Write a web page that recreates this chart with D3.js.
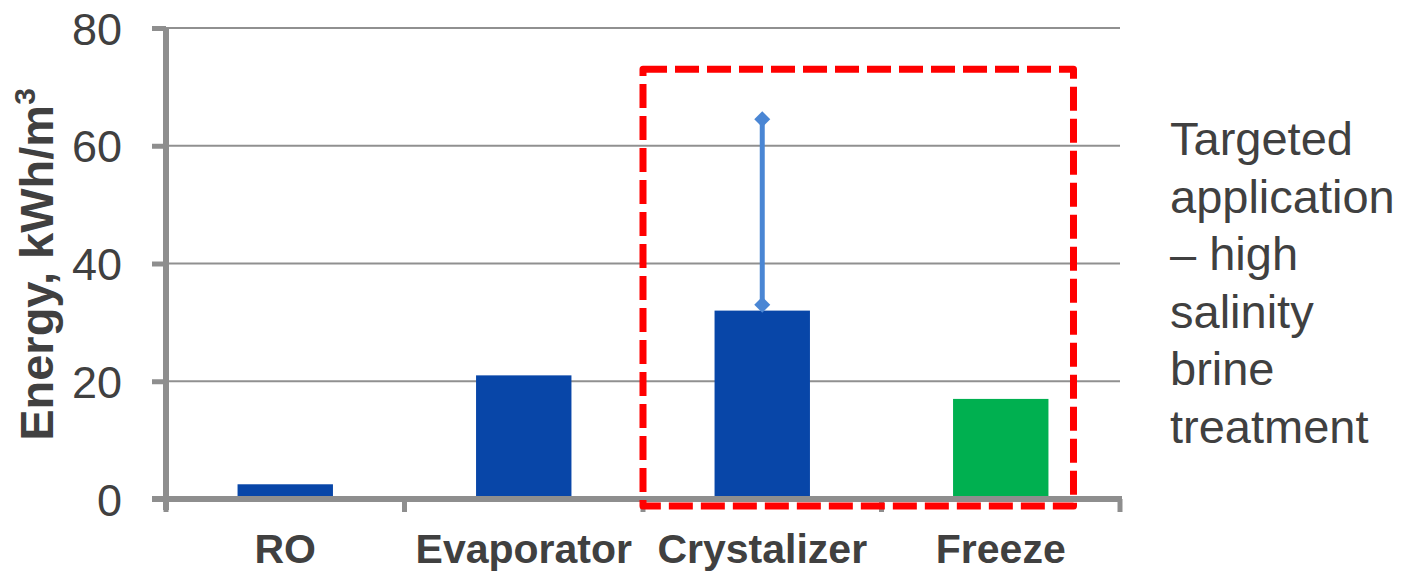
<!DOCTYPE html>
<html>
<head>
<meta charset="utf-8">
<script src="https://cdn.jsdelivr.net/npm/d3@7"></script>
<style>
  html, body { margin: 0; padding: 0; background: #fff; }
  svg { display: block; font-family: "Liberation Sans", Arial, sans-serif; }
</style>
</head>
<body>
<svg id="chart" width="1404" height="574"></svg>
<script>
// ---- data ----
const categories = ["RO", "Evaporator", "Crystalizer", "Freeze"];
const energyValues = [2.5, 21, 32, 17];
const barColors = ["#0846A8", "#0846A8", "#0846A8", "#00B050"];
const errorCategory = "Crystalizer";
const errorLow = 33;
const errorHigh = 64.5;
const yTickValues = [0, 20, 40, 60, 80];
const yTitle = "Energy, kWh/m";
const yTitleSup = "3";
const boxCategories = ["Crystalizer", "Freeze"];
const boxTopValue = 73;
const boxBottomValue = -1.2;
const noteLines = ["Targeted", "application", "\u2013 high", "salinity", "brine", "treatment"];

// ---- layout ----
const svg = d3.select("#chart");
const plotLeft = 166, plotRight = 1120, plotTop = 28, plotBottom = 499;
const axisColor = "#8E8E8E";
const textColor = "#404040";

const x = d3.scaleBand().domain(categories).range([plotLeft, plotRight])
  .paddingInner(0.6).paddingOuter(0.3);
const y = d3.scaleLinear().domain([0, 80]).range([plotBottom, plotTop]);
const step = x.step();
const boundary = c => x(c) - step * 0.3;

// gridlines
svg.append("g").selectAll("line").data(yTickValues.filter(v => v > 0)).join("line")
  .attr("x1", plotLeft).attr("x2", plotRight)
  .attr("y1", d => y(d)).attr("y2", d => y(d))
  .attr("stroke", "#909090").attr("stroke-width", 2);

// bars
svg.append("g").selectAll("rect").data(categories).join("rect")
  .attr("x", d => x(d))
  .attr("width", x.bandwidth())
  .attr("y", (d, i) => y(energyValues[i]))
  .attr("height", (d, i) => y(0) - y(energyValues[i]))
  .attr("fill", (d, i) => barColors[i]);

// y axis
const yAxis = d3.axisLeft(y).tickValues(yTickValues).tickSize(14).tickSizeOuter(0).tickPadding(30);
const gy = svg.append("g").attr("transform", `translate(${plotLeft},0)`).call(yAxis);
gy.select(".domain").remove();
gy.selectAll(".tick line").attr("stroke", axisColor).attr("stroke-width", 5);
gy.selectAll(".tick text").attr("fill", textColor).attr("font-size", 45)
  .attr("font-family", "'Liberation Sans', Arial, sans-serif").attr("dy", "0.36em");
svg.append("line").attr("x1", plotLeft).attr("x2", plotLeft)
  .attr("y1", y(80)).attr("y2", y(0) + 11)
  .attr("stroke", axisColor).attr("stroke-width", 6);

// x axis
svg.append("line").attr("x1", plotLeft - 14).attr("x2", plotRight + 2)
  .attr("y1", y(0)).attr("y2", y(0))
  .attr("stroke", axisColor).attr("stroke-width", 6);
const xBounds = categories.map(boundary).concat([plotRight]);
svg.append("g").selectAll("line").data(xBounds).join("line")
  .attr("x1", d => d).attr("x2", d => d)
  .attr("y1", y(0)).attr("y2", y(0) + 13)
  .attr("stroke", axisColor).attr("stroke-width", 5);
const xAxis = d3.axisBottom(x).tickSize(0).tickPadding(0);
const gx = svg.append("g").attr("transform", `translate(0,${y(0)})`).call(xAxis);
gx.select(".domain").remove();
gx.selectAll(".tick text").attr("fill", textColor).attr("font-size", 41).attr("font-weight", "bold")
  .attr("font-family", "'Liberation Sans', Arial, sans-serif")
  .attr("y", 64).attr("dy", 0);

// y title
const title = svg.append("text")
  .attr("transform", `translate(53,${(y(0) + y(80)) / 2 + 1}) rotate(-90)`)
  .attr("text-anchor", "middle").attr("font-size", 47).attr("font-weight", "bold").attr("fill", textColor);
title.append("tspan").text(yTitle);
title.append("tspan").text(yTitleSup).attr("font-size", 30).attr("dy", "-0.6em");

// error bar
const ex = x(errorCategory) + x.bandwidth() / 2;
svg.append("line").attr("x1", ex).attr("x2", ex)
  .attr("y1", y(errorLow)).attr("y2", y(errorHigh))
  .attr("stroke", "#4A86D4").attr("stroke-width", 5);
svg.append("g").selectAll("path").data([errorLow, errorHigh]).join("path")
  .attr("d", d3.symbol(d3.symbolSquare, 128))
  .attr("transform", d => `translate(${ex},${y(d)}) rotate(45)`)
  .attr("fill", "#4A86D4");

// dashed highlight box
const bx0 = boundary(boxCategories[0]);
const bx1 = x(boxCategories[1]) + x.bandwidth() + step * 0.105;
svg.append("rect")
  .attr("x", bx0).attr("y", y(boxTopValue))
  .attr("width", bx1 - bx0).attr("height", y(boxBottomValue) - y(boxTopValue))
  .attr("fill", "none").attr("stroke", "#FF0000").attr("stroke-width", 7)
  .attr("stroke-dasharray", "24 8").attr("stroke-linejoin", "round");

// note text
svg.append("g").selectAll("text").data(noteLines).join("text")
  .attr("x", 1170).attr("y", (d, i) => 155 + i * 57.5)
  .attr("font-size", 47).attr("fill", textColor)
  .text(d => d);
</script>
</body>
</html>
